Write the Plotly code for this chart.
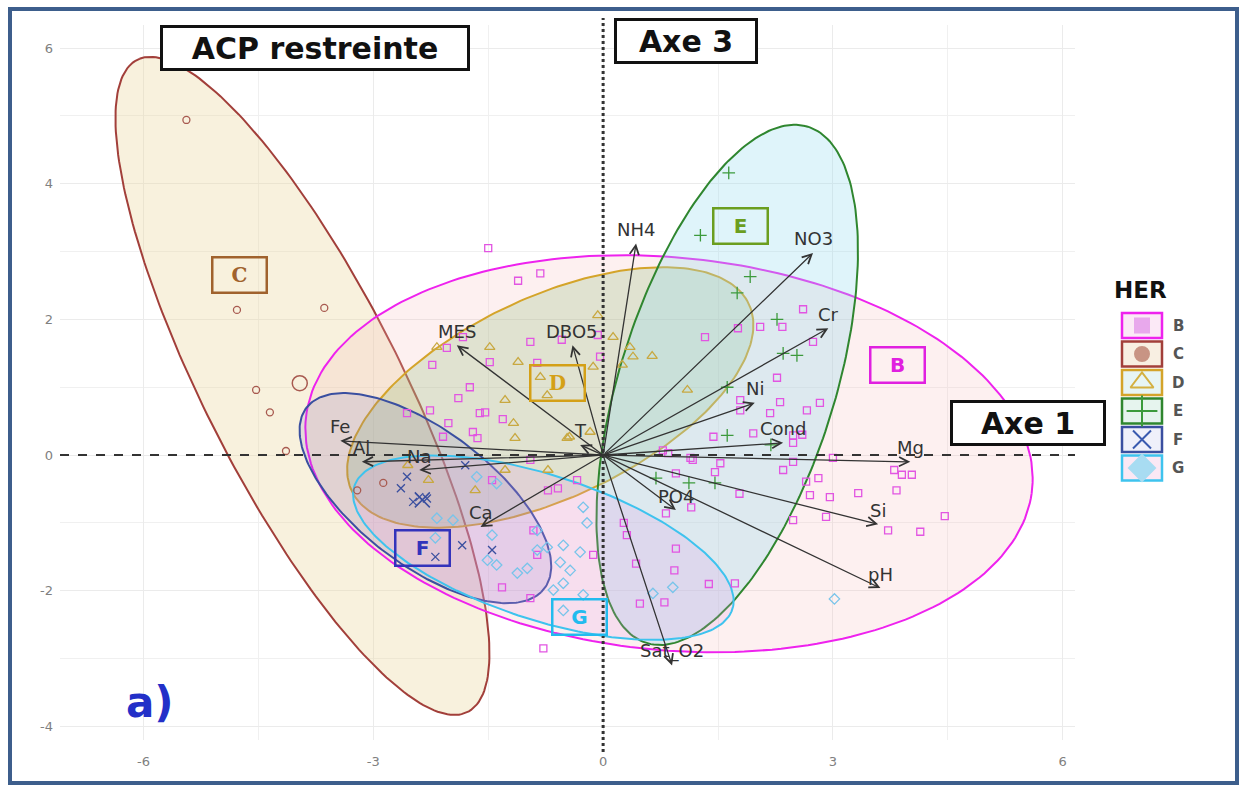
import numpy as np
import plotly.graph_objects as go

W, H = 1242, 785
XR = [-7.09, 6.16]
YR = [-4.2, 6.34]

# ---------------- individuals (scores) by HER group ----------------
B_x = [-1.50, -1.11, -0.82, -2.23, -2.04, -1.48, -1.74, -1.89, -1.54, -1.31, -2.02, -2.56, -2.26, -1.70,
       -1.64, -2.09, -0.95, -0.54, -0.86, -0.07, -0.04, -1.83, 2.61, 2.05, 2.34, 1.76, 1.33, 2.74, 2.27,
       1.79, 2.31, 2.18, 1.79, 2.66, 2.83, 1.44, 1.96, 2.48, 2.60, 0.78, 1.14, 1.53, 3.00, 2.35, 2.48,
       0.85, 1.17, 0.95, 1.46, 2.48, 2.65, 2.81, 1.78, 2.70, 2.96, 3.33, 3.83, 3.80, 3.90, 4.03, 1.15,
       0.82, 2.48, 2.91, 3.72, 4.14, 4.46, 0.95, 0.93, 0.43, 1.38, 1.72, 0.48, 0.80, 0.27, 0.31, -1.45,
       -0.95, -0.34, -0.59, -0.72, -0.91, -0.86, -1.32, -0.95, -0.13, -0.78, -1.61]
B_y = [3.05, 2.57, 2.68, 1.33, 1.58, 1.37, 1.00, 0.84, 0.63, 0.53, 0.47, 0.62, 0.66, 0.34,
       0.25, 0.27, 1.67, 1.70, 1.36, 1.77, 1.45, 1.74, 2.15, 1.89, 1.89, 1.87, 1.74, 1.67, 1.14,
       0.81, 0.78, 0.62, 0.66, 0.66, 0.77, 0.27, 0.32, 0.29, 0.30, 0.07, -0.04, -0.12, -0.04, -0.22, 0.18,
       0.03, -0.07, -0.27, -0.25, -0.10, -0.39, -0.34, -0.57, -0.59, -0.62, -0.56, -0.52, -0.22, -0.29, -0.29, -0.77,
       -0.86, -0.96, -0.91, -1.11, -1.13, -0.90, -1.38, -1.70, -1.60, -1.90, -1.89, -2.19, -2.17, -1.00, -1.18, -0.37,
       -0.07, -0.37, -0.49, -0.52, -1.11, -1.47, -1.95, -2.11, -1.47, -2.85, 0.62]

C_x = [-5.44, -4.78, -3.64, -4.53, -4.35, -4.14, -2.87, -3.21]
C_y = [4.94, 2.14, 2.17, 0.96, 0.63, 0.06, -0.41, -0.52]

D_x = [-2.17, -1.48, -1.11, -0.82, -1.28, -1.17, -1.15, -0.47, -0.17, -0.07, -0.13, 0.13, 0.35, 0.39,
       0.64, 0.25, 1.10, -0.73, -2.28, -1.67, -1.28, -0.72, -2.55, -0.44]
D_y = [1.59, 1.59, 1.37, 1.15, 0.81, 0.47, 0.25, 0.25, 0.34, 2.06, 1.30, 1.74, 1.59, 1.45,
       1.46, 1.33, 0.96, 0.88, -0.37, -0.52, -0.22, -0.22, -0.15, 0.27]

E_x = [1.64, 1.27, 1.92, 1.75, 2.27, 2.53, 2.35, 1.62, 1.62, 2.19, 1.12, 1.46, 0.69]
E_y = [4.16, 3.24, 2.63, 2.39, 2.00, 1.47, 1.50, 1.00, 0.29, 0.15, -0.41, -0.41, -0.34]

F_x = [-2.56, -2.64, -2.40, -2.30, -2.48, -1.84, -1.45, -2.19, -1.80]
F_y = [-0.32, -0.49, -0.62, -0.64, -0.69, -1.33, -1.40, -1.50, -0.15]

G_x = [-1.65, -1.39, -2.17, -1.96, -2.19, -1.45, -1.51, -1.39, -1.12, -0.99, -0.86, -0.73, -0.52, -0.30,
       -0.43, -0.56, -0.52, -0.65, -0.26, -0.52, -0.26, -0.21, -0.86, 0.91, 0.65, 3.02]
G_y = [-0.32, -0.42, -0.93, -0.96, -1.22, -1.18, -1.55, -1.62, -1.74, -1.67, -1.40, -1.36, -1.33, -1.43,
       -1.70, -1.58, -1.89, -1.99, -2.06, -2.29, -0.77, -1.00, -1.11, -1.95, -2.04, -2.12]

# group mean points that are visible
mean_groups = ["C", "F"]
mean_x = [-3.96, -2.36]
mean_y = [1.06, -0.66]

# ---------------- concentration ellipses ----------------
ell_groups = ["C", "B", "D", "E", "F", "G"]
ell_cx = [-3.925, 0.86, -0.69, 1.62, -2.32, -0.78]
ell_cy = [1.02, 0.02, 0.85, 1.035, -0.635, -1.365]
ell_a = [5.27, 4.77, 2.94, 3.95, 2.05, 2.63]
ell_b = [1.31, 2.89, 1.44, 1.42, 0.946, 1.05]
ell_angle = [113.8, -7.0, 29.7, 75.1, -42.4, -21.0]

# ---------------- variables (loadings arrows) ----------------
var_names = ["NH4", "NO3", "Cr", "Ni", "Cond", "Mg", "Si", "pH", "PO4", "Sat_O2",
             "Ca", "Na", "Al", "Fe", "MES", "DBO5", "T"]
var_x = [0.43, 2.74, 2.94, 1.98, 2.35, 4.01, 3.59, 3.62, 0.95, 0.90,
         -1.60, -2.40, -3.15, -3.43, -1.91, -0.40, -0.30]
var_y = [3.12, 2.98, 1.87, 0.77, 0.18, -0.10, -1.02, -1.96, -0.81, -3.10,
         -1.06, -0.22, -0.10, 0.21, 1.62, 1.62, 0.15]

# group label positions (box labels)
lab_groups = ["B", "C", "D", "E", "F", "G"]
lab_x = [3.84, -4.75, -0.59, 1.79, -2.36, -0.31]
lab_y = [1.33, 2.65, 1.06, 3.38, -1.37, -2.39]

x_ticks = [-6, -3, 0, 3, 6]
x_ticktext = ["-6", "-3", "0", "3", "6"]
y_ticks = [-4, -2, 0, 2, 4, 6]
y_ticktext = ["-4", "-2", "0", "2", "4", "6"]

# ---------------- styles ----------------
line_col = {"B": "#EE22EE", "C": "#A23F3A", "D": "#D4A42A", "E": "#2F862F", "F": "#3A4FA0", "G": "#3EC3EE"}
fill_col = {"B": "rgba(245,185,185,0.22)", "C": "rgba(235,215,160,0.36)", "D": "rgba(140,185,110,0.25)",
            "E": "rgba(150,220,240,0.30)", "F": "rgba(110,110,200,0.16)", "G": "rgba(225,150,230,0.20)"}
pt_col = {"B": "#E255E2", "C": "#A85A50", "D": "#C8A840", "E": "#3C9A3C", "F": "#3A4F9F", "G": "#78C4EA"}
pt_sym = {"B": "square-open", "C": "circle-open", "D": "triangle-up-open",
          "E": "cross-thin-open", "F": "x-thin-open", "G": "diamond-open"}
pt_size = {"B": 7, "C": 7, "D": 9, "E": 9, "F": 8, "G": 8}
lab_col = {"B": "#E020E0", "C": "#A0622D", "D": "#D4A017", "E": "#6B9E1F", "F": "#3333BB", "G": "#22BBEE"}

FONT = "DejaVu Sans, Liberation Sans, Arial, sans-serif"

fig = go.Figure()

# ellipses
t = np.linspace(0, 2 * np.pi, 240)
for g, cx, cy, a, b, ang in zip(ell_groups, ell_cx, ell_cy, ell_a, ell_b, ell_angle):
    th = np.deg2rad(ang)
    ex = cx + a * np.cos(t) * np.cos(th) - b * np.sin(t) * np.sin(th)
    ey = cy + a * np.cos(t) * np.sin(th) + b * np.sin(t) * np.cos(th)
    fig.add_trace(go.Scatter(x=ex, y=ey, mode="lines", fill="toself", fillcolor=fill_col[g],
                             line=dict(color=line_col[g], width=2), hoverinfo="skip", showlegend=False))

# points
pts = {"B": (B_x, B_y), "C": (C_x, C_y), "D": (D_x, D_y), "E": (E_x, E_y), "F": (F_x, F_y), "G": (G_x, G_y)}
for g, (xs, ys) in pts.items():
    fig.add_trace(go.Scatter(x=xs, y=ys, mode="markers", showlegend=False,
                             marker=dict(symbol=pt_sym[g], size=pt_size[g], color=pt_col[g],
                                         line=dict(width=1.3, color=pt_col[g]))))
for g, mx, my in zip(mean_groups, mean_x, mean_y):
    fig.add_trace(go.Scatter(x=[mx], y=[my], mode="markers", showlegend=False,
                             marker=dict(symbol=pt_sym[g], size=15, color=pt_col[g],
                                         line=dict(width=1.5, color=pt_col[g]))))

# legend keys drawn in a pixel-space overlay axis
leg_y = [325.5, 354, 382.5, 411, 439.5, 468]
leg_sym = {"B": "square", "C": "circle", "D": "triangle-up-open", "E": "cross-thin-open",
           "F": "x-thin-open", "G": "diamond"}
leg_mcol = {"B": "#E8A8EC", "C": "#C89484", "D": "#D4B040", "E": "#3C9A3C", "F": "#3A5AAF", "G": "#A8DCF2"}
leg_fill = {"B": "#FBE9F6", "C": "#F8EFE2", "D": "#E7F5F4", "E": "#E6F4EE", "F": "#EFF0FA", "G": "#FBE8F4"}
leg_size = {"B": 14, "C": 14, "D": 20, "E": 22, "F": 18, "G": 20}
shapes = []
annotations = []


def pan(x, y, text, size, color, family=FONT, **kw):
    d = dict(xref="paper", yref="paper", x=x / W, y=1 - y / H, text=text, showarrow=False,
             xanchor="center", yanchor="middle", font=dict(family=family, size=size, color=color))
    d.update(kw)
    return d


for g, ly in zip(lab_groups, leg_y):
    shapes.append(dict(type="rect", xref="paper", yref="paper",
                       x0=1122 / W, x1=1162 / W, y0=1 - (ly + 12.5) / H, y1=1 - (ly - 12.5) / H,
                       line=dict(color=line_col[g], width=2.5), fillcolor=leg_fill[g], layer="below"))
    fig.add_trace(go.Scatter(x=[1142], y=[ly], xaxis="x2", yaxis="y2", mode="markers", showlegend=False,
                             cliponaxis=False,
                             marker=dict(symbol=leg_sym[g], size=leg_size[g], color=leg_mcol[g],
                                         line=dict(width=2, color=leg_mcol[g]))))
    annotations.append(pan(1178, ly, "<b>%s</b>" % g, 15, "#555555"))

# reference lines
shapes.append(dict(type="line", xref="x", yref="y", x0=XR[0], x1=XR[1], y0=0, y1=0,
                   line=dict(color="#333333", width=2, dash="dash")))
shapes.append(dict(type="line", xref="x", yref="paper", x0=0, x1=0, y0=1 - 752 / H, y1=1 - 18 / H,
                   line=dict(color="#333333", width=3, dash="dot")))
# outer frame
shapes.append(dict(type="rect", xref="paper", yref="paper", x0=10 / W, x1=1237 / W, y0=1 - 783 / H,
                   y1=1 - 9 / H, line=dict(color="#3D5E8C", width=4)))

# variable arrows and labels
for n, vx, vy in zip(var_names, var_x, var_y):
    annotations.append(dict(x=vx, y=vy, ax=0, ay=0, xref="x", yref="y", axref="x", ayref="y",
                            text="", showarrow=True, arrowhead=5, arrowsize=1.4, arrowwidth=1.3,
                            arrowcolor="#333333", standoff=0))
    annotations.append(dict(x=vx, y=vy, xref="x", yref="y", text=n, showarrow=False, yshift=14,
                            xanchor="center", yanchor="middle",
                            font=dict(family=FONT, size=18, color="#333333")))

# group label boxes
for g, lx, ly in zip(lab_groups, lab_x, lab_y):
    fam = "DejaVu Serif, Liberation Serif, serif" if g in ("C", "D") else FONT
    annotations.append(dict(x=lx, y=ly, xref="x", yref="y", text="<b>%s</b>" % g, showarrow=False,
                            xanchor="center", yanchor="middle",
                            font=dict(family=fam, size=20, color=lab_col[g]),
                            width=48, height=29, borderpad=2, borderwidth=2.5, bordercolor=lab_col[g]))

# title boxes
for txt, cx, cy, w in [("ACP restreinte", 315, 48, 300), ("Axe 3", 686, 41, 134), ("Axe 1", 1028, 423, 146)]:
    annotations.append(pan(cx, cy, "<b>%s</b>" % txt, 30, "#111111", width=w, height=36, borderpad=2,
                           borderwidth=3, bordercolor="#111111", bgcolor="white"))

annotations.append(pan(150, 702, "<b>a)</b>", 42, "#2330C8"))
annotations.append(pan(1140, 290, "<b>HER</b>", 23, "#111111"))

axis_common = dict(showline=False, zeroline=False, ticks="", gridcolor="#EBEBEB", gridwidth=1,
                   tickfont=dict(family=FONT, size=13, color="#808080"))
fig.update_layout(
    width=W, height=H, margin=dict(l=0, r=0, t=0, b=0),
    paper_bgcolor="white", plot_bgcolor="rgba(0,0,0,0)",
    xaxis=dict(domain=[60 / W, 1075 / W], range=XR, tickvals=x_ticks, ticktext=x_ticktext,
               ticklabelstandoff=12,
               minor=dict(dtick=1.5, tick0=0, showgrid=True, gridcolor="#F0F0F0"), **axis_common),
    yaxis=dict(domain=[1 - 740 / H, 1 - 25 / H], range=YR, tickvals=y_ticks, ticktext=y_ticktext,
               ticklabelstandoff=6,
               minor=dict(dtick=1, tick0=0, showgrid=True, gridcolor="#F0F0F0"), **axis_common),
    xaxis2=dict(domain=[0, 1], range=[0, W], visible=False, anchor="y2", fixedrange=True),
    yaxis2=dict(domain=[0, 1], range=[H, 0], visible=False, anchor="x2", fixedrange=True),
    shapes=shapes, annotations=annotations, showlegend=False,
)

fig.write_html("out.html", config={"displayModeBar": False},
               post_script="document.body.style.margin='0px';document.body.style.overflow='hidden';")
